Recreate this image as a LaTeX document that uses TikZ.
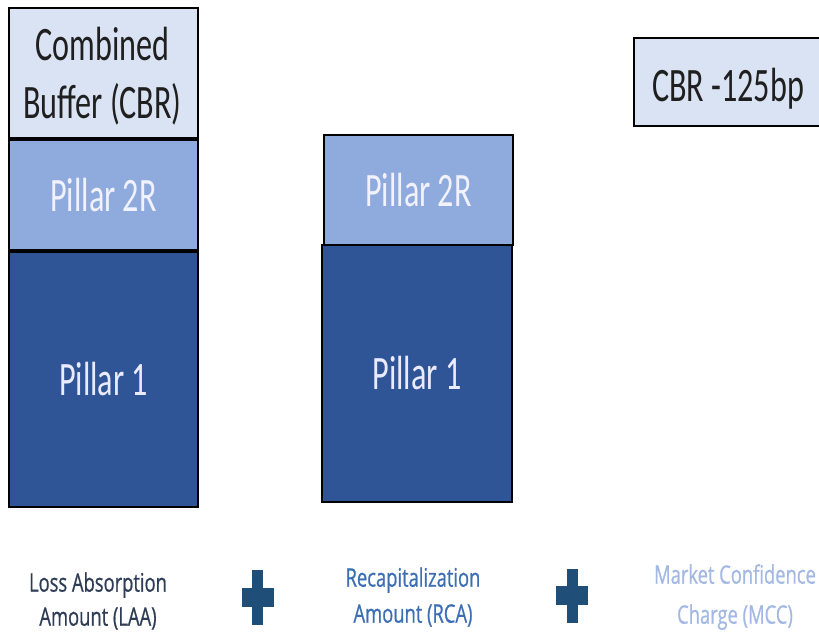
\documentclass[tikz,border=0pt]{standalone}
\usepackage{fontspec}
\setmainfont{Carlito}[FakeStretch=0.67]
\newfontfamily\labelfont{Open Sans}[FakeStretch=0.72, FakeBold=0.7]
\definecolor{bufferfill}{HTML}{DAE3F3}
\definecolor{pillartwo}{HTML}{8FAADC}
\definecolor{pillarone}{HTML}{2F5597}
\definecolor{laacol}{HTML}{2E3D55}
\definecolor{rcacol}{HTML}{3C6EB4}
\definecolor{mcccol}{HTML}{A3B8E2}
\definecolor{pluscol}{HTML}{1F4E79}
\tikzset{
  block/.style={draw=black, line width=1.7pt, inner sep=0pt, align=center,
    font=\fontsize{48}{58}\selectfont},
  lightblock/.style={block, fill=bufferfill, text=black!88},
  midblock/.style={block, fill=pillartwo, text=white!95!blue},
  darkblock/.style={block, fill=pillarone, text=white!92!blue},
  bigtext/.style={inner sep=0pt, align=center, text=black!88, font=\fontsize{48}{58}\selectfont},
  caption/.style={inner sep=0pt, align=center, font=\labelfont\fontsize{25.5}{34}\selectfont},
  plusbar/.style={fill=pluscol, draw=none, inner sep=0pt}
}
\begin{document}
\begin{tikzpicture}[x=1pt,y=-1pt]
  \useasboundingbox (0,0) rectangle (819,634);
  \begin{scope}
    \clip (0,0) rectangle (819,634);
    % left stack
    \node[lightblock, minimum width=189pt, minimum height=130pt] (cbr) at (103.5,73) {};
    \node[bigtext] (cbrlabel) at (102.5,76) {Combined\\Buffer (CBR)};
    \node[midblock, minimum width=189pt, minimum height=110pt] (lp2) at (103.5,195) {Pillar 2R};
    \node[darkblock, minimum width=189pt, minimum height=255pt] (lp1) at (103.5,379.5) {Pillar 1};
    % middle stack
    \node[midblock, minimum width=189pt, minimum height=110pt] (mp2) at (418.5,190) {Pillar 2R};
    \node[darkblock, minimum width=190pt, minimum height=257pt] (mp1) at (417,373.5) {Pillar 1};
    % reduced buffer box, open towards the right edge
    \node[lightblock, draw=none, minimum width=230pt, minimum height=86pt, anchor=west] (cbrred) at (634,82) {};
    \draw[black, line width=1.7pt] (cbrred.north east) -- (cbrred.north west)
      -- (cbrred.south west) -- (cbrred.south east);
    \node[bigtext] (cbrtext) at (728,89) {CBR -125bp};
  \end{scope}
  % captions
  \node[caption, text=laacol] (laa) at (98,601) {Loss Absorption\\Amount (LAA)};
  \node[caption, text=rcacol, font=\labelfont\fontsize{25.5}{36}\selectfont] (rca) at (413,597) {Recapitalization\\Amount (RCA)};
  \node[caption, text=mcccol, font=\labelfont\fontsize{25.5}{40}\selectfont] (mcc) at (735,597) {Market Confidence\\Charge (MCC)};
  % plus signs
  \node[plusbar, minimum width=11pt, minimum height=55pt] (plusa) at (257.5,597) {};
  \node[plusbar, minimum width=32pt, minimum height=19pt] (plusah) at (plusa) {};
  \node[plusbar, minimum width=11pt, minimum height=54pt] (plusb) at (572.5,595.5) {};
  \node[plusbar, minimum width=32pt, minimum height=19pt] (plusbh) at (572,595.5) {};
\end{tikzpicture}
\end{document}
